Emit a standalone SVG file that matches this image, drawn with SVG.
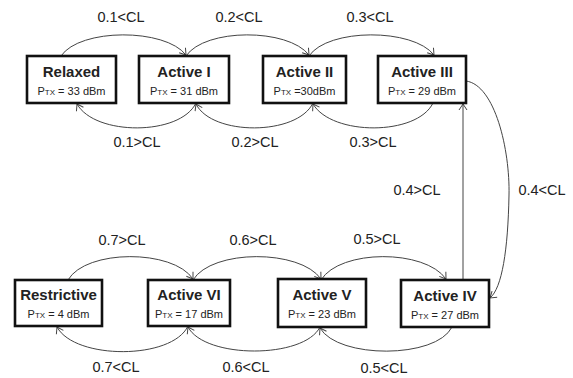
<svg xmlns="http://www.w3.org/2000/svg" width="573" height="378" viewBox="0 0 573 378">
<style>
.box{fill:#fff;stroke:#111;stroke-width:2.6}
.t{font-family:"Liberation Sans",Arial,sans-serif;font-weight:bold;font-size:15px;fill:#222;text-anchor:middle}
.p{font-family:"Liberation Sans",Arial,sans-serif;font-size:11px;fill:#222;text-anchor:middle}
.s{font-size:8px}
.lbl{font-family:"Liberation Sans",Arial,sans-serif;font-size:14.5px;fill:#222;text-anchor:middle}
.e{fill:none;stroke:#444;stroke-width:1;marker-end:url(#ah)}
</style>
<defs>
<marker id="ah" markerUnits="userSpaceOnUse" markerWidth="12" markerHeight="12" viewBox="-8 -6 10 12" refX="0" refY="0" orient="auto">
<path d="M -6 -4 L 0 0 L -6 4" fill="none" stroke="#444" stroke-width="1"/>
</marker>
</defs>
<g id="connectors">
<path class="e" d="M 61 56 C 80 28, 165 28, 186 55"/>
<path class="e" d="M 186 56 C 205 28, 288 28, 309 55"/>
<path class="e" d="M 309 56 C 328 28, 413 28, 434 55"/>
<path class="e" d="M 196 103 C 180 136, 95 136, 77 104"/>
<path class="e" d="M 313 103 C 297 136, 212 136, 196 104"/>
<path class="e" d="M 433 103 C 417 136, 332 136, 313 104"/>
<path class="e" d="M 463 280 L 463 104"/>
<path class="e" d="M 466 81 C 495 85, 510 150, 509 195 C 508 250, 502 288, 490 298"/>
<path class="e" d="M 68 280 C 86 249, 173 249, 193 279"/>
<path class="e" d="M 193 280 C 212 249, 300 249, 321 279"/>
<path class="e" d="M 321 280 C 340 249, 425 249, 446 279"/>
<path class="e" d="M 188 326 C 172 360, 75 360, 57 327"/>
<path class="e" d="M 320 327 C 304 359, 205 359, 188 327"/>
<path class="e" d="M 452 327 C 436 359, 338 359, 320 328"/>
</g>
<g id="edge-labels">
<text class="lbl" x="121" y="22">0.1&lt;CL</text>
<text class="lbl" x="239" y="22">0.2&lt;CL</text>
<text class="lbl" x="370" y="22">0.3&lt;CL</text>
<text class="lbl" x="137" y="147">0.1&gt;CL</text>
<text class="lbl" x="255" y="147">0.2&gt;CL</text>
<text class="lbl" x="373" y="147">0.3&gt;CL</text>
<text class="lbl" x="417" y="195">0.4&gt;CL</text>
<text class="lbl" x="542" y="195">0.4&lt;CL</text>
<text class="lbl" x="122" y="245">0.7&gt;CL</text>
<text class="lbl" x="253" y="245">0.6&gt;CL</text>
<text class="lbl" x="377" y="244">0.5&gt;CL</text>
<text class="lbl" x="116" y="372">0.7&lt;CL</text>
<text class="lbl" x="246" y="372">0.6&lt;CL</text>
<text class="lbl" x="384" y="373">0.5&lt;CL</text>
</g>
<g id="relaxed">
<rect class="box" x="27" y="56" width="89" height="47"/>
<text class="t" x="71.5" y="77">Relaxed</text>
<text class="p" x="71.5" y="95">P<tspan class="s">TX</tspan> = 33 dBm</text>
</g>
<g id="active1">
<rect class="box" x="139" y="56" width="90" height="47"/>
<text class="t" x="184" y="77">Active I</text>
<text class="p" x="184" y="95">P<tspan class="s">TX</tspan> = 31 dBm</text>
</g>
<g id="active2">
<rect class="box" x="263" y="56" width="83" height="47"/>
<text class="t" x="304.5" y="77">Active II</text>
<text class="p" x="304.5" y="95">P<tspan class="s">TX</tspan> =30dBm</text>
</g>
<g id="active3">
<rect class="box" x="378" y="56" width="88" height="47"/>
<text class="t" x="422" y="77">Active III</text>
<text class="p" x="422" y="95">P<tspan class="s">TX</tspan> = 29 dBm</text>
</g>
<g id="restrictive">
<rect class="box" x="15" y="280" width="87" height="46"/>
<text class="t" x="58.5" y="300">Restrictive</text>
<text class="p" x="58.5" y="318">P<tspan class="s">TX</tspan> = 4 dBm</text>
</g>
<g id="active6">
<rect class="box" x="148" y="280" width="82" height="46"/>
<text class="t" x="189" y="300">Active VI</text>
<text class="p" x="189" y="318">P<tspan class="s">TX</tspan> = 17 dBm</text>
</g>
<g id="active5">
<rect class="box" x="278" y="279" width="88" height="48"/>
<text class="t" x="322" y="300">Active V</text>
<text class="p" x="322" y="318">P<tspan class="s">TX</tspan> = 23 dBm</text>
</g>
<g id="active4">
<rect class="box" x="401" y="280" width="88" height="47"/>
<text class="t" x="445" y="301">Active IV</text>
<text class="p" x="445" y="319">P<tspan class="s">TX</tspan> = 27 dBm</text>
</g>
</svg>
